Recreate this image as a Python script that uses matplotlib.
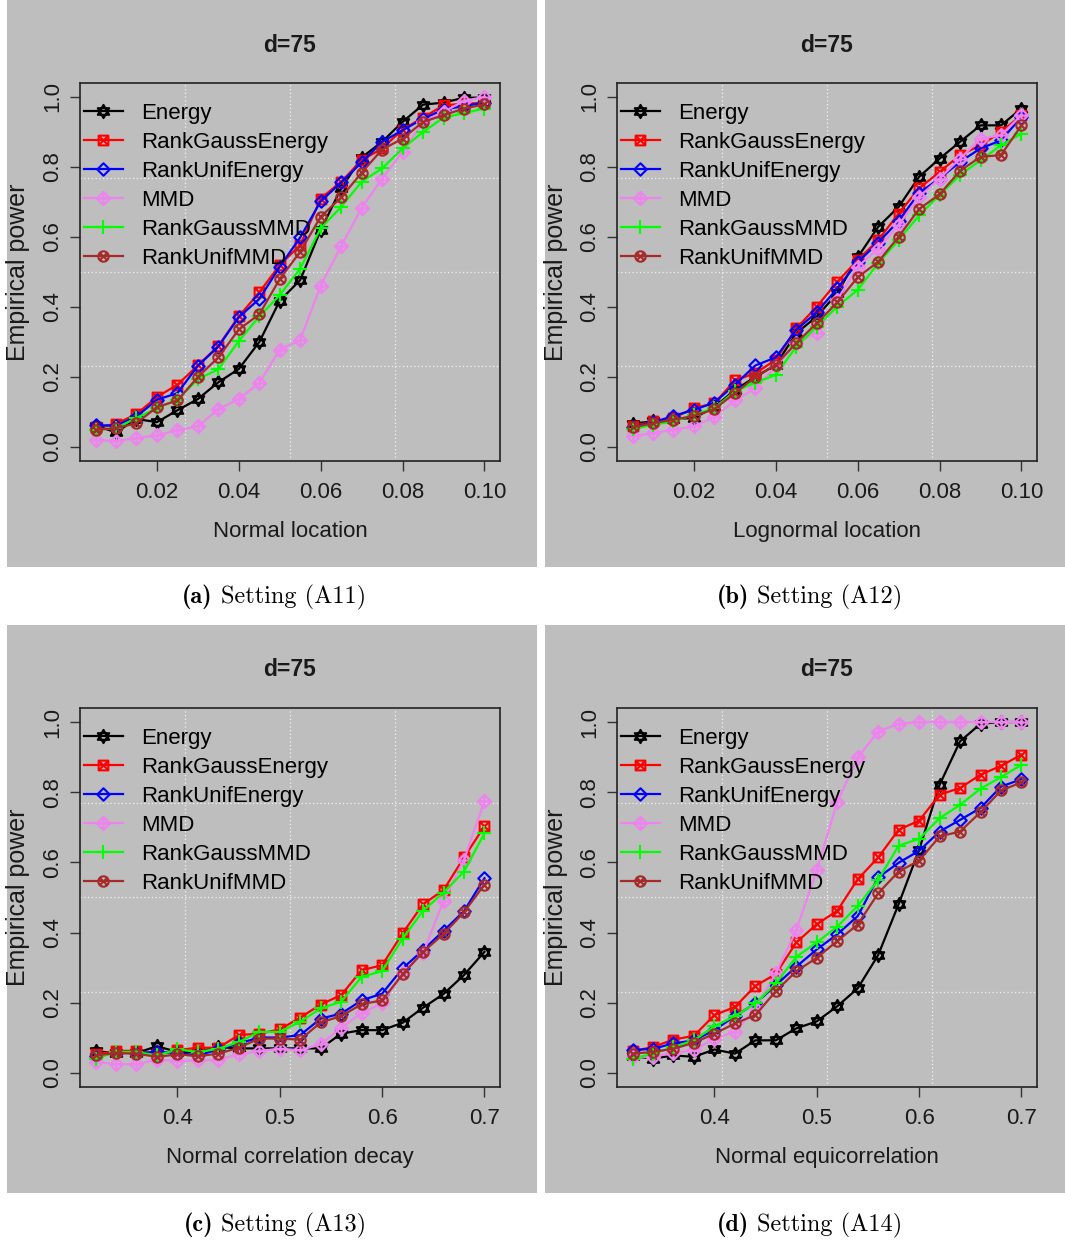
import numpy as np
import matplotlib
matplotlib.use("Agg")
import matplotlib.pyplot as plt
from matplotlib.path import Path
from matplotlib.patches import Rectangle
from matplotlib.ticker import FixedLocator, FormatStrFormatter

plt.rcParams['font.family'] = ['Liberation Sans', 'DejaVu Sans']

# ---- data ----
x_loc = [0.005, 0.010, 0.015, 0.020, 0.025, 0.030, 0.035, 0.040, 0.045, 0.050,
         0.055, 0.060, 0.065, 0.070, 0.075, 0.080, 0.085, 0.090, 0.095, 0.100]
x_cor = [0.32, 0.34, 0.36, 0.38, 0.40, 0.42, 0.44, 0.46, 0.48, 0.50,
         0.52, 0.54, 0.56, 0.58, 0.60, 0.62, 0.64, 0.66, 0.68, 0.70]

methods = ['Energy', 'RankGaussEnergy', 'RankUnifEnergy', 'MMD', 'RankGaussMMD', 'RankUnifMMD']

# (a) Normal location
a_energy = [0.061, 0.042, 0.080, 0.071, 0.105, 0.137, 0.185, 0.223, 0.300, 0.418,
            0.477, 0.620, 0.739, 0.827, 0.872, 0.929, 0.978, 0.984, 0.998, 0.998]
a_rg_energy = [0.056, 0.066, 0.094, 0.143, 0.178, 0.233, 0.289, 0.373, 0.442, 0.520,
               0.577, 0.710, 0.758, 0.819, 0.853, 0.907, 0.941, 0.976, 0.981, 0.983]
a_ru_energy = [0.062, 0.061, 0.087, 0.135, 0.154, 0.232, 0.287, 0.371, 0.423, 0.515,
               0.599, 0.702, 0.756, 0.813, 0.872, 0.905, 0.938, 0.964, 0.974, 0.984]
a_mmd = [0.021, 0.016, 0.026, 0.033, 0.048, 0.059, 0.108, 0.137, 0.183, 0.278,
         0.306, 0.461, 0.574, 0.683, 0.767, 0.843, 0.929, 0.957, 0.989, 1.000]
a_rg_mmd = [0.049, 0.054, 0.083, 0.111, 0.135, 0.194, 0.222, 0.303, 0.373, 0.434,
            0.510, 0.625, 0.686, 0.758, 0.796, 0.853, 0.900, 0.941, 0.954, 0.967]
a_ru_mmd = [0.049, 0.054, 0.068, 0.114, 0.133, 0.200, 0.256, 0.336, 0.379, 0.480,
            0.558, 0.658, 0.713, 0.784, 0.850, 0.881, 0.929, 0.948, 0.967, 0.979]

# (b) Lognormal location
b_energy = [0.067, 0.073, 0.080, 0.083, 0.114, 0.163, 0.200, 0.235, 0.325, 0.373,
            0.439, 0.542, 0.629, 0.686, 0.772, 0.824, 0.872, 0.919, 0.919, 0.967]
b_rg_energy = [0.059, 0.073, 0.083, 0.111, 0.125, 0.190, 0.211, 0.249, 0.339, 0.401,
               0.472, 0.534, 0.591, 0.667, 0.739, 0.786, 0.834, 0.862, 0.900, 0.948]
b_ru_energy = [0.056, 0.070, 0.089, 0.106, 0.127, 0.178, 0.233, 0.256, 0.335, 0.385,
               0.453, 0.528, 0.584, 0.646, 0.726, 0.767, 0.815, 0.853, 0.876, 0.943]
b_mmd = [0.030, 0.040, 0.049, 0.059, 0.086, 0.133, 0.168, 0.230, 0.297, 0.327,
         0.420, 0.515, 0.567, 0.634, 0.715, 0.767, 0.824, 0.881, 0.891, 0.948]
b_rg_mmd = [0.051, 0.064, 0.073, 0.092, 0.111, 0.159, 0.184, 0.206, 0.287, 0.344,
            0.401, 0.449, 0.525, 0.591, 0.662, 0.720, 0.777, 0.819, 0.862, 0.895]
b_ru_mmd = [0.056, 0.068, 0.078, 0.089, 0.108, 0.154, 0.200, 0.235, 0.297, 0.354,
            0.413, 0.485, 0.529, 0.601, 0.680, 0.722, 0.789, 0.829, 0.834, 0.919]

# (c) Normal correlation decay
c_energy = [0.062, 0.057, 0.057, 0.076, 0.060, 0.060, 0.074, 0.070, 0.070, 0.070,
            0.070, 0.070, 0.112, 0.122, 0.122, 0.143, 0.186, 0.225, 0.279, 0.345]
c_rg_energy = [0.053, 0.063, 0.063, 0.053, 0.065, 0.072, 0.072, 0.108, 0.112, 0.124,
               0.158, 0.195, 0.222, 0.293, 0.307, 0.398, 0.481, 0.521, 0.614, 0.703]
c_ru_energy = [0.048, 0.057, 0.057, 0.060, 0.057, 0.050, 0.067, 0.084, 0.101, 0.101,
               0.108, 0.155, 0.169, 0.207, 0.226, 0.298, 0.350, 0.405, 0.461, 0.555]
c_mmd = [0.031, 0.025, 0.025, 0.038, 0.034, 0.036, 0.038, 0.053, 0.063, 0.069,
         0.065, 0.082, 0.129, 0.171, 0.198, 0.284, 0.341, 0.491, 0.607, 0.775]
c_rg_mmd = [0.041, 0.060, 0.060, 0.050, 0.067, 0.060, 0.069, 0.088, 0.117, 0.117,
            0.146, 0.184, 0.203, 0.274, 0.290, 0.383, 0.462, 0.514, 0.574, 0.683]
c_ru_mmd = [0.050, 0.057, 0.055, 0.046, 0.053, 0.048, 0.055, 0.072, 0.098, 0.098,
            0.095, 0.144, 0.162, 0.196, 0.207, 0.281, 0.345, 0.396, 0.458, 0.537]

# (d) Normal equicorrelation
d_energy = [0.048, 0.041, 0.050, 0.046, 0.067, 0.055, 0.093, 0.093, 0.127, 0.147,
            0.190, 0.241, 0.336, 0.481, 0.636, 0.821, 0.945, 0.995, 1.000, 1.000]
d_rg_energy = [0.062, 0.074, 0.095, 0.106, 0.165, 0.188, 0.248, 0.282, 0.372, 0.424,
               0.462, 0.552, 0.614, 0.693, 0.719, 0.793, 0.812, 0.850, 0.875, 0.907]
d_ru_energy = [0.065, 0.069, 0.084, 0.093, 0.122, 0.162, 0.198, 0.250, 0.303, 0.352,
               0.395, 0.447, 0.557, 0.599, 0.633, 0.688, 0.721, 0.755, 0.816, 0.837]
d_mmd = [0.046, 0.046, 0.057, 0.065, 0.098, 0.117, 0.184, 0.284, 0.407, 0.578,
         0.772, 0.899, 0.973, 0.995, 1.000, 1.000, 1.000, 1.000, 1.000, 1.000]
d_rg_mmd = [0.041, 0.055, 0.074, 0.093, 0.133, 0.162, 0.198, 0.255, 0.331, 0.372,
            0.417, 0.476, 0.550, 0.648, 0.667, 0.726, 0.764, 0.810, 0.843, 0.878]
d_ru_mmd = [0.055, 0.060, 0.069, 0.086, 0.112, 0.141, 0.165, 0.233, 0.290, 0.328,
            0.376, 0.423, 0.512, 0.574, 0.605, 0.674, 0.688, 0.743, 0.805, 0.828]

xticks_loc = [0.02, 0.04, 0.06, 0.08, 0.10]
xticks_cor = [0.4, 0.5, 0.6, 0.7]
yticks = [0.0, 0.2, 0.4, 0.6, 0.8, 1.0]

panel_titles = ['d=75', 'd=75', 'd=75', 'd=75']
xlabels = ['Normal location', 'Lognormal location',
           'Normal correlation decay', 'Normal equicorrelation']
cap_tags = ['(a)', '(b)', '(c)', '(d)']
cap_texts = ['Setting (A11)', 'Setting (A12)', 'Setting (A13)', 'Setting (A14)']

# ---- R style pch markers ----
M, L, C = Path.MOVETO, Path.LINETO, Path.CLOSEPOLY


def seg(p, q):
    return Path([p, q], [M, L])


tri_up = Path([(0, 1), (-0.866, -0.5), (0.866, -0.5), (0, 0)], [M, L, L, C])
tri_dn = Path([(0, -1), (-0.866, 0.5), (0.866, 0.5), (0, 0)], [M, L, L, C])
pch11 = Path.make_compound_path(tri_up, tri_dn)
square = Path([(-1, -1), (1, -1), (1, 1), (-1, 1), (0, 0)], [M, L, L, L, C])
pch7 = Path.make_compound_path(square, seg((-1, -1), (1, 1)), seg((-1, 1), (1, -1)))
diamond = Path([(0, 1), (1, 0), (0, -1), (-1, 0), (0, 0)], [M, L, L, L, C])
pch9 = Path.make_compound_path(diamond, seg((0, 1), (0, -1)), seg((-1, 0), (1, 0)))
pch13 = Path.make_compound_path(Path.unit_circle(), seg((-0.71, -0.71), (0.71, 0.71)),
                                seg((-0.71, 0.71), (0.71, -0.71)))

styles = [
    dict(color='black', marker=pch11, ms=9.5),
    dict(color='red', marker=pch7, ms=7),
    dict(color='blue', marker=diamond, ms=9),
    dict(color='violet', marker=pch9, ms=9.5),
    dict(color='#00FF00', marker='+', ms=10),
    dict(color='brown', marker=pch13, ms=7.5),
]

panels = [
    (x_loc, [a_energy, a_rg_energy, a_ru_energy, a_mmd, a_rg_mmd, a_ru_mmd], xticks_loc, '%.2f'),
    (x_loc, [b_energy, b_rg_energy, b_ru_energy, b_mmd, b_rg_mmd, b_ru_mmd], xticks_loc, '%.2f'),
    (x_cor, [c_energy, c_rg_energy, c_ru_energy, c_mmd, c_rg_mmd, c_ru_mmd], xticks_cor, '%.1f'),
    (x_cor, [d_energy, d_rg_energy, d_ru_energy, d_mmd, d_rg_mmd, d_ru_mmd], xticks_cor, '%.1f'),
]

# pixel layout: plot box, gray background box, caption centre
W, H = 1065, 1241
plot_boxes = [(80, 83, 500, 461), (617, 83, 1037, 461), (80, 708, 500, 1087), (617, 708, 1037, 1087)]
bg_boxes = [(7, 0, 537, 567), (545, 0, 1065, 567), (7, 625, 537, 1193), (545, 625, 1065, 1193)]
cap_pos = [(272, 597), (808, 597), (272, 1225), (808, 1225)]

GRAY = '#BEBEBE'
FS = 16

fig = plt.figure(figsize=(W / 100, H / 100), dpi=100)

for i, (xs, series, xt, fmt) in enumerate(panels):
    l, t, r, b = bg_boxes[i]
    fig.patches.append(Rectangle((l / W, 1 - b / H), (r - l) / W, (b - t) / H,
                                 transform=fig.transFigure, facecolor=GRAY, edgecolor='none', zorder=-5))
    l, t, r, b = plot_boxes[i]
    pw, ph = r - l, b - t
    ax = fig.add_axes([l / W, 1 - b / H, pw / W, ph / H])
    ax.set_facecolor(GRAY)

    for name, ys, st in zip(methods, series, styles):
        ax.plot(xs, ys, color=st['color'], lw=1.6, marker=st['marker'], ms=st['ms'],
                mfc='none', mec=st['color'], mew=1.5, label=name)

    # R-like 4% padding
    span = xs[-1] - xs[0]
    x0, x1 = xs[0] - 0.04 * span, xs[-1] + 0.04 * span
    ax.set_xlim(x0, x1)
    ax.set_ylim(-0.04, 1.04)

    # dotted grid at quarters of the plot region
    ax.xaxis.set_minor_locator(FixedLocator([x0 + k * (x1 - x0) / 4 for k in (1, 2, 3)]))
    ax.yaxis.set_minor_locator(FixedLocator([-0.04 + k * 1.08 / 4 for k in (1, 2, 3)]))
    ax.grid(which='minor', color='#f2f2f2', linestyle=(0, (1, 2)), lw=0.9)
    ax.tick_params(which='minor', length=0)
    ax.set_axisbelow(True)

    ax.set_xticks(xt)
    ax.set_yticks(yticks)
    ax.xaxis.set_major_formatter(FormatStrFormatter(fmt))
    ax.yaxis.set_major_formatter(FormatStrFormatter('%.1f'))
    ax.tick_params(which='major', direction='out', length=7, width=1.0, color='#333333',
                   labelsize=FS, labelcolor='#1a1a1a')
    ax.tick_params(axis='x', pad=8)
    ax.tick_params(axis='y', pad=5, labelrotation=90)
    for lab in ax.get_yticklabels():
        lab.set_va('center')
    for sp in ax.spines.values():
        sp.set_color('#222222')
        sp.set_linewidth(1.2)

    ax.set_xlabel(xlabels[i], fontsize=FS, va='center', color='#1a1a1a')
    ax.xaxis.set_label_coords(0.5, -71 / ph)
    ax.set_ylabel('Empirical power', fontsize=18, va='center', color='#1a1a1a')
    ax.yaxis.set_label_coords(-(l - bg_boxes[i][0] - 11) / pw, 0.5)
    ax.text(0.5, 1 + 38 / ph, panel_titles[i], transform=ax.transAxes, ha='center', va='center',
            fontsize=16.5, fontweight='bold', color='#1a1a1a')

    ax.legend(loc='upper left', bbox_to_anchor=(4 / pw, 1 - 20 / ph), frameon=False,
              borderpad=0, borderaxespad=0, handlelength=1.75, handletextpad=0.8,
              labelspacing=0.36, fontsize=FS, numpoints=1)

    # caption: bold tag + roman text in Computer Modern
    cx, cy = cap_pos[i]
    fig.text((cx - 59) / W, 1 - cy / H, cap_tags[i], ha='right', va='center',
             fontsize=17.5, family='cmb10')
    fig.text((cx - 51) / W, 1 - cy / H, cap_texts[i], ha='left', va='center',
             fontsize=17.5, family='cmr10')

fig.savefig('out.png', dpi=100)
